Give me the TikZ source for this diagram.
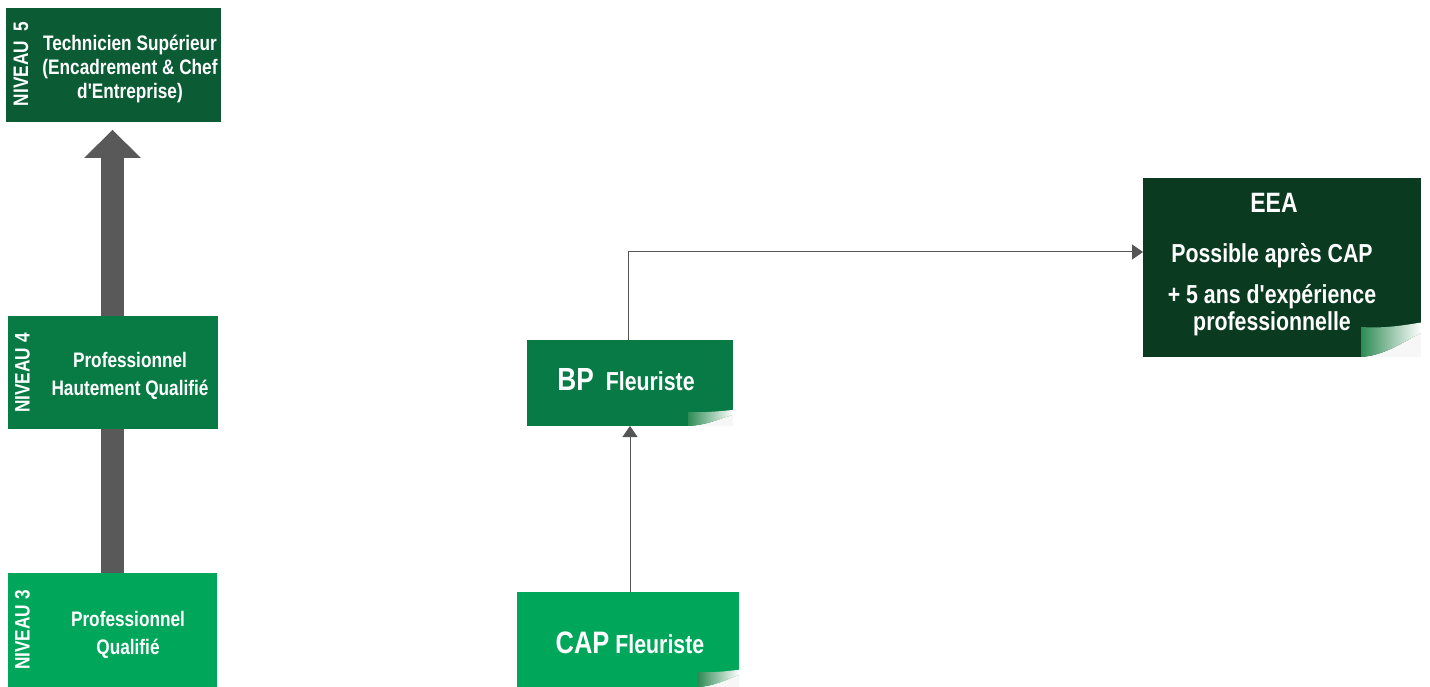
\documentclass[tikz,border=0pt]{standalone}
\usepackage{fontspec}
\newfontfamily\rc{Liberation Sans}[FakeStretch=0.82]
\usetikzlibrary{arrows.meta}
\definecolor{cfive}{HTML}{0B5B35}
\definecolor{cfour}{HTML}{087A44}
\definecolor{cthree}{HTML}{00A65A}
\definecolor{cbp}{HTML}{077A45}
\definecolor{ccap}{HTML}{00A65A}
\definecolor{ceea}{HTML}{0A3A20}
\definecolor{cgrey}{HTML}{595959}
\definecolor{cline}{HTML}{555555}
\definecolor{ccurl}{HTML}{2E8B55}
\tikzset{
  lvl/.style={inner sep=0pt, text=white, font=\rc\bfseries\fontsize{21}{28}\selectfont, align=center},
  vlab/.style={rotate=90, text=white, font=\rc\bfseries\fontsize{21}{22}\selectfont, inner sep=0pt},
  wtext/.style={text=white, inner sep=0pt, font=\rc\bfseries},
  conn/.style={draw=cline, line width=1pt, -{Triangle[length=11pt,width=15pt]}},
}
% #1 right x, #2 bottom y, #3 curl width, #4 curl height
\newcommand{\pagecurl}[4]{%
  \fill[gray!6] (#1-#3,#2) .. controls (#1-0.6*#3,#2-0.05*#4) and (#1-0.3*#3,#2-0.5*#4) .. (#1,#2-0.8*#4) -- (#1,#2) -- cycle;
  \shade[left color=ccurl, right color=white] (#1-#3,#2-#4) .. controls (#1-0.6*#3,#2-0.95*#4) and (#1-0.3*#3,#2-1.05*#4) .. (#1,#2-1.15*#4) -- (#1,#2-0.8*#4) .. controls (#1-0.3*#3,#2-0.5*#4) and (#1-0.6*#3,#2-0.05*#4) .. (#1-#3,#2) -- cycle;
}
\begin{document}
\begin{tikzpicture}[x=1pt,y=-1pt]
\useasboundingbox (0,0) rectangle (1430,687);
% grey big arrow
\fill[cgrey] (101,158) rectangle (124,573);
\fill[cgrey] (84,158) -- (112.5,130) -- (141,158) -- cycle;
% level boxes
\fill[cfive] (6,8) rectangle (221,122);
\fill[cfour] (8,316) rectangle (218,429);
\fill[cthree] (8,573) rectangle (217,687);
\node[vlab] (v5) at (21,64) {NIVEAU\ \ 5};
\node[vlab] (v4) at (22.5,373) {NIVEAU 4};
\node[vlab] (v3) at (22.5,630) {NIVEAU 3};
\node[lvl, font=\rc\bfseries\fontsize{21}{24}\selectfont] (t5) at (130,69) {Technicien Supérieur\\(Encadrement \& Chef\\d'Entreprise)};
\node[lvl] (t4) at (130,376) {Professionnel\\Hautement Qualifié};
\node[lvl] (t3) at (128,635) {Professionnel\\Qualifié};
% right boxes
\fill[cbp] (527,340) rectangle (733,426);
\pagecurl{733}{426}{45}{14}
\fill[ccap] (517,592) rectangle (739,687);
\pagecurl{739}{687}{41}{15}
\fill[ceea] (1143,178) rectangle (1421,357);
\pagecurl{1421}{357}{60}{30}
\node[wtext, anchor=base] (bp) at (626,390) {{\fontsize{32}{34}\selectfont BP}\hspace{12pt}{\fontsize{26}{28}\selectfont Fleuriste}};
\node[wtext, anchor=base] (cap) at (630,653) {{\fontsize{31}{34}\selectfont CAP}\hspace{6pt}{\fontsize{26}{28}\selectfont Fleuriste}};
\node[wtext, font=\rc\bfseries\fontsize{28}{30}\selectfont, anchor=base] (eea) at (1274,213) {EEA};
\node[wtext, font=\rc\bfseries\fontsize{26}{27}\selectfont, align=center] (eeat) at (1272,290) {Possible après CAP\\[14pt]+ 5 ans d'expérience\\professionnelle};
% connectors
\coordinate (bptop) at (628,340);
\coordinate (captop) at (630,592);
\coordinate (bpbot) at (630,426);
\coordinate (eeal) at (1143,252);
\draw[conn] (captop) -- (bpbot);
\draw[conn] (bptop) |- (eeal);
\end{tikzpicture}
\end{document}
